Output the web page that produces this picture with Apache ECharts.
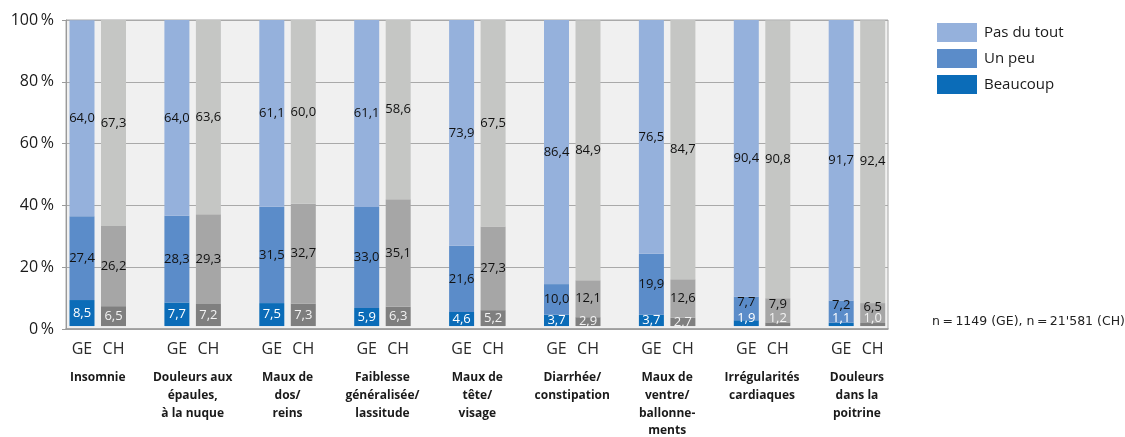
<!DOCTYPE html>
<html>
<head>
<meta charset="utf-8">
<script src="https://cdn.jsdelivr.net/npm/echarts@6/dist/echarts.min.js"></script>
<style>html,body{margin:0;padding:0;background:#fff;}#c{width:1125px;height:437px;}</style>
</head>
<body>
<div id="c"></div>
<script>
const categories = [
  'Insomnie',
  'Douleurs aux\népaules,\nà la nuque',
  'Maux de\ndos/\nreins',
  'Faiblesse\ngénéralisée/\nlassitude',
  'Maux de\ntête/\nvisage',
  'Diarrhée/\nconstipation',
  'Maux de\nventre/\nballonne-\nments',
  'Irrégularités\ncardiaques',
  'Douleurs\ndans la\npoitrine'
];
const groupLabels = ['GE', 'CH'];
const legendNames = ['Pas du tout', 'Un peu', 'Beaucoup'];
const yTicks = [0, 20, 40, 60, 80, 100];

const geBeaucoup = [8.5, 7.7, 7.5, 5.9, 4.6, 3.7, 3.7, 1.9, 1.1];
const geUnPeu    = [27.4, 28.3, 31.5, 33.0, 21.6, 10.0, 19.9, 7.7, 7.2];
const gePasDuTout= [64.0, 64.0, 61.1, 61.1, 73.9, 86.4, 76.5, 90.4, 91.7];

const chBeaucoup = [6.5, 7.2, 7.3, 6.3, 5.2, 2.9, 2.7, 1.2, 1.0];
const chUnPeu    = [26.2, 29.3, 32.7, 35.1, 27.3, 12.1, 12.6, 7.9, 6.5];
const chPasDuTout= [67.3, 63.6, 60.0, 58.6, 67.5, 84.9, 84.7, 90.8, 92.4];

const FONT = 'Open Sans';
const fmt = v => v.toFixed(1).replace('.', ',');

function makeData(values, role, bottomVals) {
  return values.map((v, i) => {
    const item = { value: v };
    if (role === 'b' && v < 2.5) {
      item.label = { position: 'insideBottom', distance: 1 };
    }
    if (role === 'u' && bottomVals && bottomVals[i] < 2.5) {
      item.label = { offset: [0, -6] };
    }
    return item;
  });
}

function mkSeries(name, stack, values, color, labelColor, role, bottomVals) {
  return {
    name: name,
    type: 'bar',
    stack: stack,
    xAxisIndex: 1,
    yAxisIndex: 1,
    barWidth: 25,
    barGap: '26%',
    data: makeData(values, role, bottomVals),
    itemStyle: { color: color },
    label: {
      show: true,
      position: 'inside',
      color: labelColor,
      fontFamily: FONT,
      fontSize: 13,
      formatter: p => fmt(p.value)
    },
    emphasis: { disabled: true }
  };
}

const series = [
  mkSeries('Beaucoup', 'GE', geBeaucoup, '#0b6cb8', '#ffffff', 'b'),
  mkSeries('Un peu', 'GE', geUnPeu, '#5b8cc9', '#111111', 'u', geBeaucoup),
  mkSeries('Pas du tout', 'GE', gePasDuTout, '#95b1dc', '#111111', 'p'),
  mkSeries('Beaucoup CH', 'CH', chBeaucoup, '#7f7f7f', '#f2f2f2', 'b'),
  mkSeries('Un peu CH', 'CH', chUnPeu, '#a6a6a6', '#111111', 'u', chBeaucoup),
  mkSeries('Pas du tout CH', 'CH', chPasDuTout, '#c5c6c4', '#111111', 'p')
];

const chart = echarts.init(document.getElementById('c'), null, { renderer: 'canvas' });
chart.setOption({
  animation: false,
  textStyle: { fontFamily: FONT },
  legend: {
    data: legendNames,
    orient: 'vertical',
    left: 932,
    top: 18,
    icon: 'rect',
    itemWidth: 40,
    itemHeight: 19,
    itemGap: 7,
    selectedMode: false,
    textStyle: { fontFamily: FONT, fontSize: 15, color: '#1a1a1a', padding: [0, 0, 0, 2] }
  },
  graphic: [{
    type: 'text',
    left: 932,
    top: 315,
    style: { text: "n\u2009=\u20091149 (GE), n\u2009=\u200921'581 (CH)", fontFamily: 'DejaVu Sans', fontSize: 12.5, fill: '#222' }
  }],
  grid: [
    { left: 66, right: 237, top: 20, bottom: 108, show: true, backgroundColor: '#f0f0f0', borderColor: '#a6a6a6', borderWidth: 1 },
    { left: 50.3, right: 220.6, top: 20, bottom: 108, show: false }
  ],
  xAxis: [
    {
      gridIndex: 0, type: 'category', data: categories,
      axisLine: { show: true, lineStyle: { color: '#9a9a9a', width: 1.5 } },
      axisTick: { show: false }, axisLabel: { show: false }, splitLine: { show: false }
    },
    {
      gridIndex: 1, type: 'category', data: categories,
      axisLine: { show: false }, axisTick: { show: false }, splitLine: { show: false },
      axisLabel: {
        interval: 0,
        margin: 3,
        formatter: function (v) {
          const lines = v.split('\n').map(l => '{n|' + l + '}').join('\n');
          return '{g|' + groupLabels[0] + '}{c|' + groupLabels[1] + '}\n' + lines;
        },
        rich: {
          g: { width: 31.5, align: 'center', fontSize: 16, lineHeight: 40, color: '#2a2a2a', fontFamily: FONT },
          c: { width: 31.5, align: 'center', fontSize: 16, lineHeight: 40, color: '#2a2a2a', fontFamily: FONT },
          n: { fontSize: 12, fontWeight: 'bold', lineHeight: 17.7, color: '#1a1a1a', align: 'center', fontFamily: FONT }
        }
      }
    }
  ],
  yAxis: [
    {
      gridIndex: 0, type: 'value', min: yTicks[0], max: yTicks[yTicks.length - 1], interval: yTicks[1] - yTicks[0],
      axisLine: { show: true, lineStyle: { color: '#9a9a9a' } },
      axisTick: { show: true, length: 4, lineStyle: { color: '#9a9a9a' } },
      axisLabel: { formatter: '{value}\u2009%', fontSize: 16, color: '#1a1a1a', margin: 12, fontFamily: FONT },
      splitLine: { show: true, lineStyle: { color: '#a9a9a9', width: 1 } }
    },
    {
      gridIndex: 1, type: 'value', min: 0, max: 100, show: false, splitLine: { show: false }
    }
  ],
  series: series
});
</script>
</body>
</html>
